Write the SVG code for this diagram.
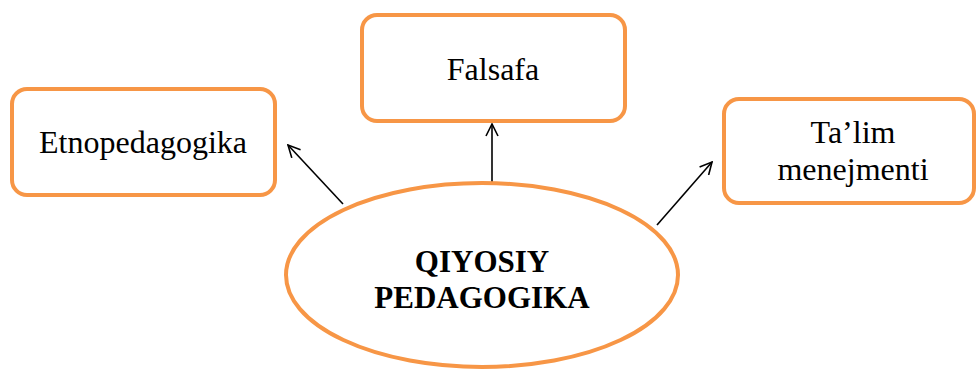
<svg xmlns="http://www.w3.org/2000/svg" width="976" height="371" viewBox="0 0 976 371">
<style>
.box{fill:#fff;stroke:#F79646;stroke-width:4}
.t{font-family:"Liberation Serif","Times New Roman",serif;font-size:32px;fill:#000;text-anchor:middle}
.b{font-weight:bold;font-size:31px}
.c{stroke:#000;stroke-width:1.6;fill:none;marker-end:url(#ah)}
</style>
<defs>
<marker id="ah" viewBox="0 0 14 14" refX="13" refY="7" markerWidth="14" markerHeight="14" markerUnits="userSpaceOnUse" orient="auto">
<path d="M1,1 L13,7 L1,13" fill="none" stroke="#000" stroke-width="1.6"/>
</marker>
</defs>
<rect width="976" height="371" fill="#fff"/>
<g id="connectors">
<line class="c" x1="343" y1="204" x2="288" y2="145"/>
<line class="c" x1="492" y1="182" x2="492" y2="124"/>
<line class="c" x1="657" y1="225" x2="712" y2="162"/>
</g>
<g id="etnopedagogika">
<rect class="box" x="12" y="89" width="263" height="106" rx="15"/>
<text class="t" x="143" y="153">Etnopedagogika</text>
</g>
<g id="falsafa">
<rect class="box" x="362" y="15" width="263" height="106" rx="15"/>
<text class="t" x="493" y="80">Falsafa</text>
</g>
<g id="talim">
<rect class="box" x="724" y="99" width="250" height="104" rx="15"/>
<text class="t" x="853" y="143">Ta’lim</text>
<text class="t" x="853" y="180">menejmenti</text>
</g>
<g id="qiyosiy">
<ellipse class="box" cx="482" cy="275" rx="196" ry="92"/>
<text class="t b" x="482" y="272">QIYOSIY</text>
<text class="t b" x="482" y="308">PEDAGOGIKA</text>
</g>
</svg>
